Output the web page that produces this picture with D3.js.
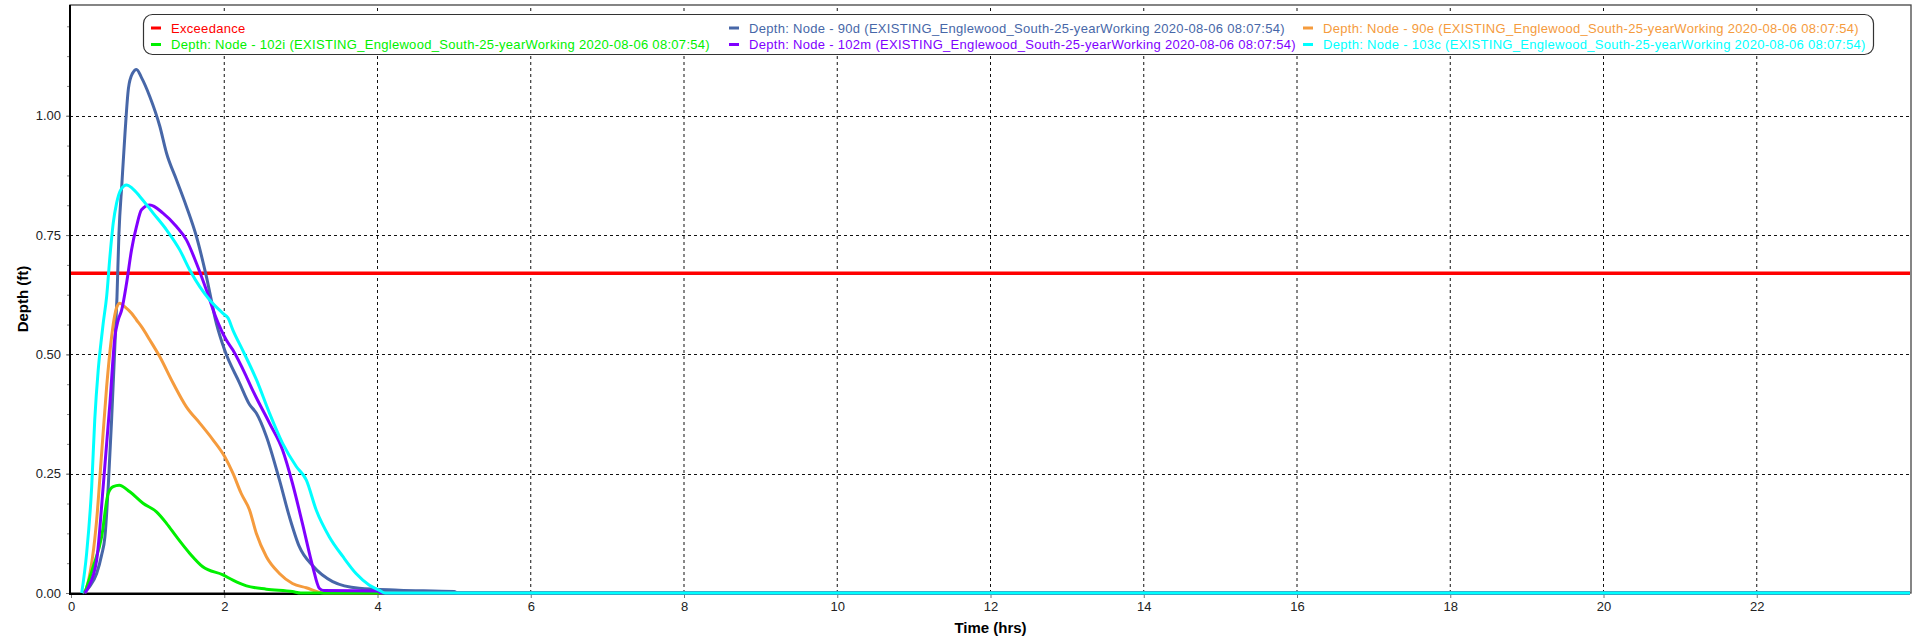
<!DOCTYPE html>
<html>
<head>
<meta charset="utf-8">
<script src="https://cdn.jsdelivr.net/npm/d3@7/dist/d3.min.js"></script>
<style>
    body { margin: 0; background: #fff; }
    text { font-family: "Liberation Sans", Arial, sans-serif; }
</style>
</head>
<body>
<svg id="chart"></svg>
<script>
const width = 1919;
const height = 644;

// exceedance level (ft)
const exceedance = 0.67;

// Depth: Node - 90d
const t90d = [0.15, 0.18, 0.25, 0.335, 0.40, 0.443, 0.486, 0.53, 0.573, 0.60, 0.625, 0.665, 0.705, 0.75, 0.80, 0.855, 0.92, 1.029, 1.159, 1.246, 1.376, 1.506, 1.637, 1.767, 1.897, 2.005, 2.2, 2.33, 2.418, 2.55, 2.72, 2.85, 2.98, 3.155, 3.415, 3.76, 4.28, 5.0, 5.05, 24];
const d90d = [0, 0.003, 0.015, 0.041, 0.08, 0.118, 0.223, 0.363, 0.52, 0.62, 0.75, 0.86, 0.964, 1.058, 1.088, 1.097, 1.08, 1.04, 0.978, 0.922, 0.866, 0.81, 0.747, 0.663, 0.565, 0.509, 0.44, 0.395, 0.377, 0.328, 0.237, 0.16, 0.097, 0.057, 0.024, 0.01, 0.006, 0.003, 0, 0];

// Depth: Node - 90e
const t90e = [0.18, 0.22, 0.335, 0.40, 0.465, 0.53, 0.56, 0.60, 0.638, 0.70, 0.79, 0.855, 0.92, 1.029, 1.159, 1.332, 1.506, 1.68, 1.853, 2.005, 2.113, 2.22, 2.33, 2.418, 2.55, 2.72, 2.89, 3.07, 3.3, 24];
const d90e = [0, 0.02, 0.153, 0.293, 0.432, 0.537, 0.572, 0.60, 0.607, 0.60, 0.586, 0.572, 0.558, 0.53, 0.495, 0.44, 0.39, 0.356, 0.321, 0.286, 0.251, 0.209, 0.174, 0.125, 0.076, 0.041, 0.02, 0.011, 0, 0];

// Depth: Node - 102i
const t102i = [0.18, 0.29, 0.40, 0.486, 0.551, 0.63, 0.768, 0.94, 1.116, 1.246, 1.376, 1.55, 1.72, 1.983, 2.113, 2.29, 2.55, 2.89, 3.0, 24];
const d102i = [0, 0.055, 0.118, 0.209, 0.223, 0.226, 0.212, 0.188, 0.17, 0.146, 0.118, 0.083, 0.055, 0.038, 0.027, 0.015, 0.008, 0.003, 0, 0];

// Depth: Node - 102m
const t102m = [0.18, 0.22, 0.335, 0.42, 0.508, 0.573, 0.616, 0.66, 0.725, 0.79, 0.855, 0.92, 1.029, 1.2, 1.376, 1.506, 1.637, 1.767, 1.897, 2.027, 2.113, 2.29, 2.37, 2.59, 2.76, 2.89, 3.02, 3.155, 3.24, 3.3, 4.0, 4.05, 24];
const d102m = [0, 0.01, 0.069, 0.223, 0.398, 0.537, 0.572, 0.592, 0.649, 0.719, 0.768, 0.803, 0.813, 0.796, 0.768, 0.74, 0.691, 0.635, 0.575, 0.53, 0.509, 0.453, 0.425, 0.356, 0.3, 0.23, 0.146, 0.055, 0.01, 0.005, 0.004, 0, 0];

// Depth: Node - 103c
const t103c = [0.14, 0.204, 0.27, 0.31, 0.355, 0.40, 0.42, 0.465, 0.508, 0.551, 0.595, 0.65, 0.725, 0.80, 0.898, 1.072, 1.246, 1.419, 1.55, 1.68, 1.81, 1.983, 2.05, 2.113, 2.24, 2.42, 2.59, 2.76, 2.94, 3.07, 3.2, 3.37, 3.55, 3.72, 3.89, 4.02, 4.1, 24];
const d103c = [0, 0.083, 0.223, 0.363, 0.467, 0.537, 0.565, 0.621, 0.705, 0.775, 0.817, 0.845, 0.855, 0.848, 0.831, 0.796, 0.761, 0.719, 0.677, 0.642, 0.614, 0.586, 0.576, 0.551, 0.509, 0.447, 0.377, 0.314, 0.265, 0.237, 0.174, 0.118, 0.076, 0.041, 0.017, 0.006, 0, 0];

const suffix = " (EXISTING_Englewood_South-25-yearWorking 2020-08-06 08:07:54)";
const seriesNames = ["Depth: Node - 90d", "Depth: Node - 90e", "Depth: Node - 102i", "Depth: Node - 102m", "Depth: Node - 103c"];
const seriesColors = ["#4767a8", "#f59b3d", "#00f000", "#8000ff", "#00ffff"];
const seriesTimes = [t90d, t90e, t102i, t102m, t103c];
const seriesDepths = [d90d, d90e, d102i, d102m, d103c];

const xTicks = d3.range(0, 23, 2);
const yTicks = [0, 0.25, 0.5, 0.75, 1.0];

const margin = {left: 70, right: 9, top: 5, bottom: 51};

const x = d3.scaleLinear().domain([0, 24]).range([margin.left + 1, width - margin.right]);
const y = d3.scaleLinear().domain([0, 1.23]).range([height - margin.bottom, margin.top + 1]);

const svg = d3.select('#chart')
    .attr('width', width).attr('height', height);

const plot = svg.append('g');

// frame
plot.append('rect')
    .attr('x', margin.left).attr('y', margin.top)
    .attr('width', width - margin.right - margin.left + 1)
    .attr('height', height - margin.bottom - margin.top)
    .attr('fill', 'white')
    .attr('stroke', '#444')
    .attr('stroke-width', 1.3);

// grid
plot.append('g').selectAll('line')
    .data(xTicks.filter(d => d > 0))
    .enter().append('line')
    .attr('x1', d => x(d)).attr('x2', d => x(d))
    .attr('y1', y(0)).attr('y2', margin.top)
    .style('stroke', '#111')
    .style('stroke-width', 1)
    .style('stroke-dasharray', '3,3');

plot.append('g').selectAll('line')
    .data(yTicks.filter(d => d > 0))
    .enter().append('line')
    .attr('x1', margin.left).attr('x2', width - margin.right)
    .attr('y1', d => Math.round(y(d)) + 0.5).attr('y2', d => Math.round(y(d)) + 0.5)
    .style('stroke', '#111')
    .style('stroke-width', 1)
    .style('stroke-dasharray', '3,3');

// axes
const yAxis = d3.axisLeft(y).tickValues(yTicks).tickFormat(d3.format('.2f')).tickSize(4).tickPadding(5);
const yMinor = d3.axisLeft(y).tickValues(d3.range(0, 1.23, 0.0625)).tickFormat('').tickSize(3);
const xAxis = d3.axisBottom(x).tickValues(xTicks).tickFormat(d3.format('d')).tickSize(5).tickPadding(4);

const gyMinor = svg.append('g').attr('transform', `translate(${margin.left},0)`).call(yMinor);
gyMinor.select('.domain').remove();
gyMinor.selectAll('line').attr('stroke', '#888');

const gy = svg.append('g').attr('transform', `translate(${margin.left},0)`).call(yAxis);
gy.select('.domain').remove();
gy.selectAll('line').attr('stroke', '#777');
gy.selectAll('text').style('font-size', '13px').attr('fill', '#222');

const gx = svg.append('g').attr('transform', `translate(0,${y(0)})`).call(xAxis);
gx.select('.domain').remove();
gx.selectAll('line').attr('stroke', '#777');
gx.selectAll('text').style('font-size', '13px').attr('fill', '#222');

// axis lines
svg.append('line')
    .attr('x1', margin.left).attr('x2', width - margin.right)
    .attr('y1', y(0) + 1).attr('y2', y(0) + 1)
    .style('stroke', 'black').style('stroke-width', 2);
svg.append('line')
    .attr('x1', margin.left).attr('x2', margin.left)
    .attr('y1', margin.top).attr('y2', y(0) + 2)
    .style('stroke', 'black').style('stroke-width', 2);

// exceedance
svg.append('line')
    .attr('x1', margin.left + 1).attr('x2', width - margin.right)
    .attr('y1', y(exceedance)).attr('y2', y(exceedance))
    .style('stroke', '#ff0000').style('stroke-width', 3.5);

// series
const line = d3.line()
    .x(d => x(d[0]))
    .y(d => y(d[1]))
    .curve(d3.curveMonotoneX);

seriesNames.forEach((name, i) => {
    const pts = d3.zip(seriesTimes[i], seriesDepths[i]);
    svg.append('path')
        .datum(pts)
        .attr('d', line)
        .style('fill', 'none')
        .style('stroke', seriesColors[i])
        .style('stroke-width', 3)
        .style('stroke-linejoin', 'round');
});

// axis titles
svg.append('text')
    .attr('x', (x(0) + x(24)) / 2).attr('y', 633)
    .attr('text-anchor', 'middle')
    .style('font-size', '15px').style('font-weight', 'bold')
    .text('Time (hrs)');

svg.append('text')
    .attr('transform', `translate(28,${(y(0) + margin.top) / 2}) rotate(-90)`)
    .attr('text-anchor', 'middle')
    .style('font-size', '15px').style('font-weight', 'bold')
    .text('Depth (ft)');

// legend
const legendItems = [{name: 'Exceedance', color: '#ff0000'}]
    .concat(seriesNames.map((n, i) => ({name: n + suffix, color: seriesColors[i]})));
const colX = [151, 729, 1303];
const rowY = [28, 44.5];

const legend = svg.append('g');
legend.append('rect')
    .attr('x', 143.5).attr('y', 14.5)
    .attr('width', 1730).attr('height', 40)
    .attr('rx', 9).attr('ry', 9)
    .attr('fill', 'white')
    .attr('stroke', '#333')
    .attr('stroke-width', 1.2);

legendItems.forEach((item, i) => {
    const cx = colX[i % 3];
    const cy = rowY[Math.floor(i / 3)];
    legend.append('rect')
        .attr('x', cx).attr('y', cy - 1.5)
        .attr('width', 10).attr('height', 3)
        .attr('fill', item.color);
    legend.append('text')
        .attr('x', cx + 20).attr('y', cy + 4.5)
        .style('font-size', '13px')
        .style('letter-spacing', '0.3px')
        .attr('fill', item.color)
        .text(item.name);
});
</script>
</body>
</html>
